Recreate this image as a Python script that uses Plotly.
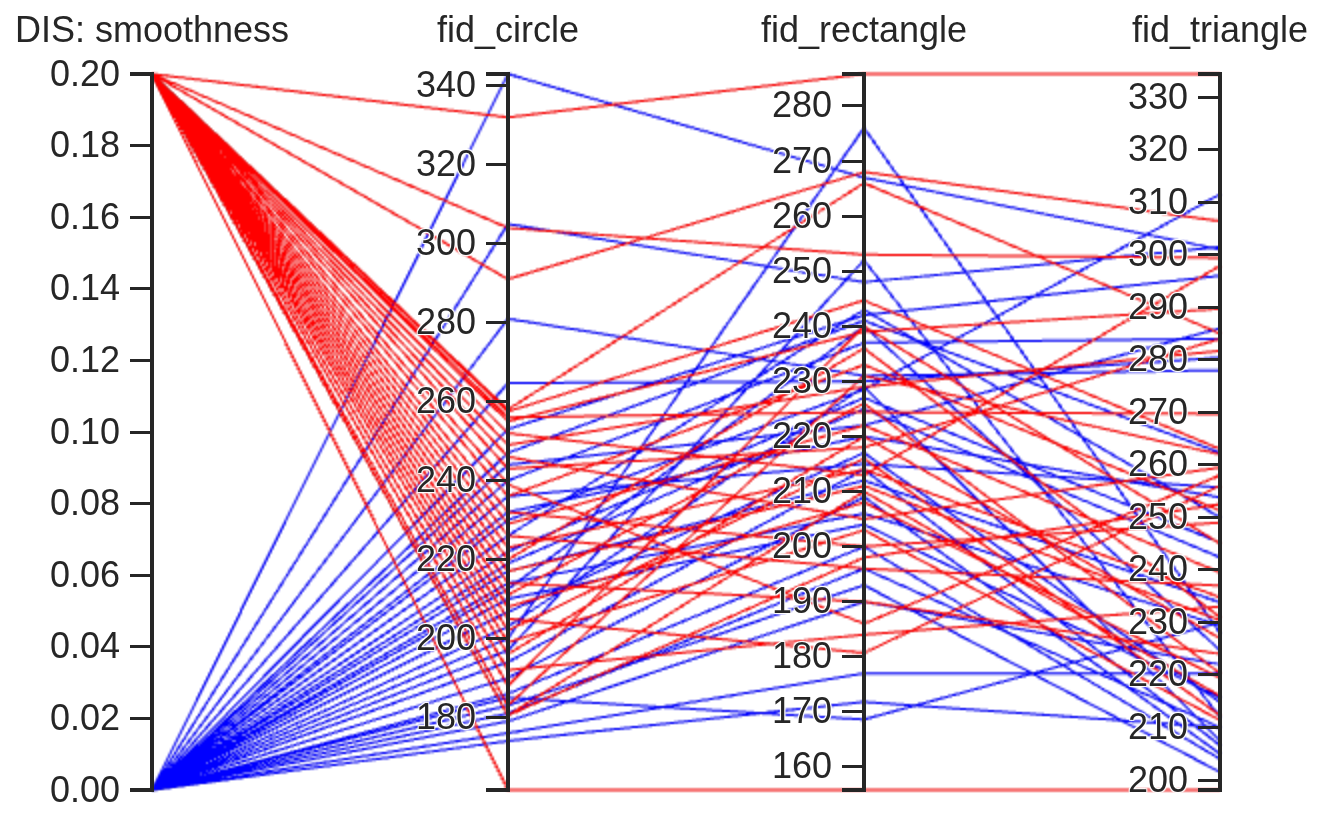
import plotly.graph_objects as go

# red runs: smoothness 0.2, blue runs: smoothness 0.0
red_circle = [161.6, 332, 304, 291, 258, 257.5, 256, 255, 252, 249,
              246, 243, 239, 236, 232, 229, 226, 223, 220, 217,
              214, 211, 208, 205, 202, 199, 196, 192, 188, 180.5,
              180.5, 183]
red_rectangle = [155.8, 285.8, 253, 268, 266, 244.7, 224.4, 239, 213, 229,
                 205, 218, 186, 233, 200, 222, 196, 214, 236, 211,
                 190, 226, 208, 180.7, 216, 203, 220, 184, 240, 198,
                 210, 231]
red_triangle = [198.1, 334.4, 299.4, 306.4, 285, 263, 269.7, 289.7, 297.9, 281.7,
                259.5, 284, 258, 251.3, 249, 239.5, 237, 234.8, 231, 230.4,
                224, 220.3, 219.4, 256, 212.3, 211.4, 227, 233, 245, 252.5,
                216, 262]

blue_circle = [343, 305, 281, 264.7, 253, 247, 244, 240, 236, 232,
               226, 222, 219, 217, 214, 212.5, 210, 206.7, 203, 200,
               197, 194, 190, 186, 183, 181, 179, 176, 174, 185,
               230]
blue_rectangle = [267, 248, 231, 230, 242, 241, 222, 237, 215, 220,
                  243, 227, 225, 212, 206, 240, 204, 217, 229, 276,
                  252, 214, 209, 200, 193, 196, 190, 177, 171.8, 168.6,
                  228.5]
blue_triangle = [301, 301.5, 278, 280.4, 296, 262.3, 286, 284, 255.7, 253.8,
                 250, 245.2, 242.4, 233.8, 229.4, 224.7, 215.7, 214.8, 207.5, 228,
                 212, 206.6, 205, 204, 201.5, 210, 222, 220.3, 210, 230,
                 311.5]

smoothness = [0.2] * len(red_circle) + [0.0] * len(blue_circle)
fid_circle = red_circle + blue_circle
fid_rectangle = red_rectangle + blue_rectangle
fid_triangle = red_triangle + blue_triangle

smoothness_ticks = [0, 0.02, 0.04, 0.06, 0.08, 0.1, 0.12, 0.14, 0.16, 0.18, 0.2]
circle_ticks = [180, 200, 220, 240, 260, 280, 300, 320, 340]
rectangle_ticks = [160, 170, 180, 190, 200, 210, 220, 230, 240, 250, 260, 270, 280]
triangle_ticks = [200, 210, 220, 230, 240, 250, 260, 270, 280, 290, 300, 310, 320, 330]


def dim(label, values, ticks, fmt='%d'):
    # parcoords draws the axis line only between the first and last tickval,
    # so add the data extremes as unlabelled ticks to get the full-height axis
    lo, hi = min(values), max(values)
    vals = [lo] + [t for t in ticks if lo < t < hi] + [hi]
    text = [''] + [fmt % t for t in ticks if lo < t < hi] + [' ']
    if ticks[0] == lo:
        text[0] = fmt % lo
    if ticks[-1] == hi:
        text[-1] = fmt % hi
    return dict(label=label, values=values, range=[lo, hi],
                tickvals=vals, ticktext=text)


fig = go.Figure(go.Parcoords(
    line=dict(color=smoothness,
              colorscale=[[0, 'rgba(0,0,255,0.78)'], [1, 'rgba(255,0,0,0.78)']]),
    dimensions=[
        dim('DIS: smoothness', smoothness, smoothness_ticks, '%.2f'),
        dim('fid_circle', fid_circle, circle_ticks),
        dim('fid_rectangle', fid_rectangle, rectangle_ticks),
        dim('fid_triangle', fid_triangle, triangle_ticks),
    ],
    labelfont=dict(size=18, color='#262626'),
    tickfont=dict(size=18, color='#262626'),
))

# figure is laid out at half size and scaled 2x in the page
fig.update_layout(width=663, height=406,
                  margin=dict(l=76, r=53, t=35, b=9),
                  font=dict(family='Arial, Liberation Sans', color='#262626'),
                  paper_bgcolor='white', plot_bgcolor='white')

post = """
document.body.style.margin = '0';
var css = document.createElement('style');
css.innerHTML = `
.parcoords .axis .domain { stroke: #262626 !important; stroke-opacity: 1 !important;
    stroke-width: 1.75px !important; vector-effect: non-scaling-stroke;
    transform: scaleX(5.5); }
.parcoords .axis .tick line { stroke: #262626 !important; stroke-opacity: 1 !important;
    stroke-width: 1.5px !important; vector-effect: non-scaling-stroke;
    transform: scaleX(2.75); }
.parcoords .axis .tick text { transform: translateX(-9px); }
.parcoords .axis-title { transform: translate(0px, -14px) !important; }
`;
document.head.appendChild(css);
var gd = document.getElementById('{plot_id}');
gd.style.transformOrigin = '0 0';
gd.style.transform = 'scale(2)';
"""
fig.write_html("out.html", post_script=post,
               config={'displayModeBar': False, 'plotGlPixelRatio': 1})
